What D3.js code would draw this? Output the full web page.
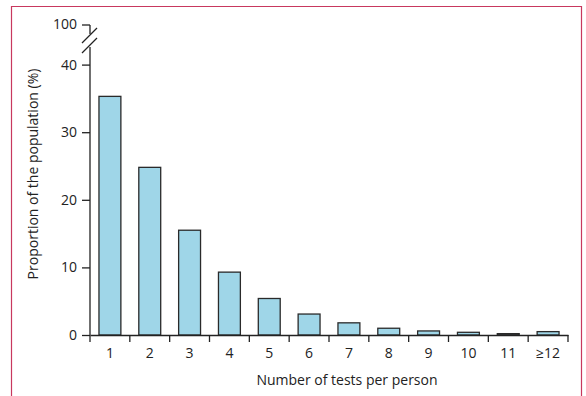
<!DOCTYPE html>
<html><head><meta charset="utf-8">
<script src="https://cdn.jsdelivr.net/npm/d3@7"></script>
<style>body{margin:0;background:#fff}svg{display:block}text{font-family:"Open Sans",sans-serif;fill:#222}</style>
</head><body>
<script>
const categories = ["1","2","3","4","5","6","7","8","9","10","11","≥12"];
const values = [35.3, 24.8, 15.5, 9.3, 5.4, 3.1, 1.8, 1.0, 0.6, 0.4, 0.2, 0.5];
const yTicks = [0, 10, 20, 30, 40];
const yBreakLabel = "100";
const xTitle = "Number of tests per person";
const yTitle = "Proportion of the population (%)";

const W = 586, H = 396;
const svg = d3.select("body").append("svg").attr("width", W).attr("height", H);

// frame
svg.append("path").attr("d", `M11.5,${H}V6.5H581.5V${H}`).attr("fill","none").attr("stroke","#c8385e").attr("stroke-width",1.2);

const x = d3.scaleBand().domain(categories).range([90, 568]).paddingInner(0.45).paddingOuter(0.225);
const y = d3.scaleLinear().domain([0, 40]).range([335, 64.6]);
const fs = 14;

const ink = "#222";
// bars
svg.append("g").selectAll("rect").data(values).join("rect")
  .attr("x", (d,i)=>x(categories[i]))
  .attr("width", x.bandwidth())
  .attr("y", d=>y(d))
  .attr("height", d=>y(0)-y(d))
  .attr("fill","#9fd6e8").attr("stroke","#2a2a2a").attr("stroke-width",1.3);

// y axis
const yAxis = svg.append("g").attr("transform","translate(90,0)")
  .call(d3.axisLeft(y).tickValues(yTicks).tickSize(8).tickPadding(5));
yAxis.select(".domain").remove();
yAxis.selectAll("line").attr("stroke",ink).attr("stroke-width",1.3);
yAxis.selectAll("text").attr("font-size",fs).attr("font-family","Open Sans").attr("fill",ink);

// y axis line with break
const yTop = 25;
svg.append("line").attr("x1",90).attr("x2",90).attr("y1",y(0)).attr("y2",47).attr("stroke",ink).attr("stroke-width",1.3);
svg.append("line").attr("x1",90).attr("x2",90).attr("y1",yTop).attr("y2",34).attr("stroke",ink).attr("stroke-width",1.3);
svg.append("line").attr("x1",82).attr("x2",90).attr("y1",yTop).attr("y2",yTop).attr("stroke",ink).attr("stroke-width",1.3);
svg.append("line").attr("x1",82).attr("x2",97).attr("y1",43).attr("y2",28).attr("stroke",ink).attr("stroke-width",1.3);
svg.append("line").attr("x1",82).attr("x2",97).attr("y1",53).attr("y2",38).attr("stroke",ink).attr("stroke-width",1.3);
svg.append("text").attr("x",77).attr("y",yTop).attr("dy","0.32em").attr("text-anchor","end").attr("font-size",fs).text(yBreakLabel);

// x axis
const xAxis = svg.append("g").attr("transform",`translate(0,${y(0)})`)
  .call(d3.axisBottom(x).tickSize(0).tickPadding(13));
xAxis.select(".domain").attr("stroke",ink).attr("stroke-width",1.3);
xAxis.selectAll("text").attr("font-size",fs).attr("font-family","Open Sans").attr("fill",ink);
const bounds = d3.range(categories.length+1).map(i=>x.range()[0] + i*x.step());
svg.append("g").selectAll("line").data(bounds).join("line")
  .attr("x1",d=>d).attr("x2",d=>d).attr("y1",y(0)).attr("y2",y(0)+7)
  .attr("stroke",ink).attr("stroke-width",1.3);

// titles
svg.append("text").attr("x",347).attr("y",385).attr("text-anchor","middle").attr("font-size",fs).text(xTitle);
svg.append("text").attr("transform","translate(38,174) rotate(-90)").attr("text-anchor","middle").attr("font-size",fs).text(yTitle);
</script>
</body></html>
